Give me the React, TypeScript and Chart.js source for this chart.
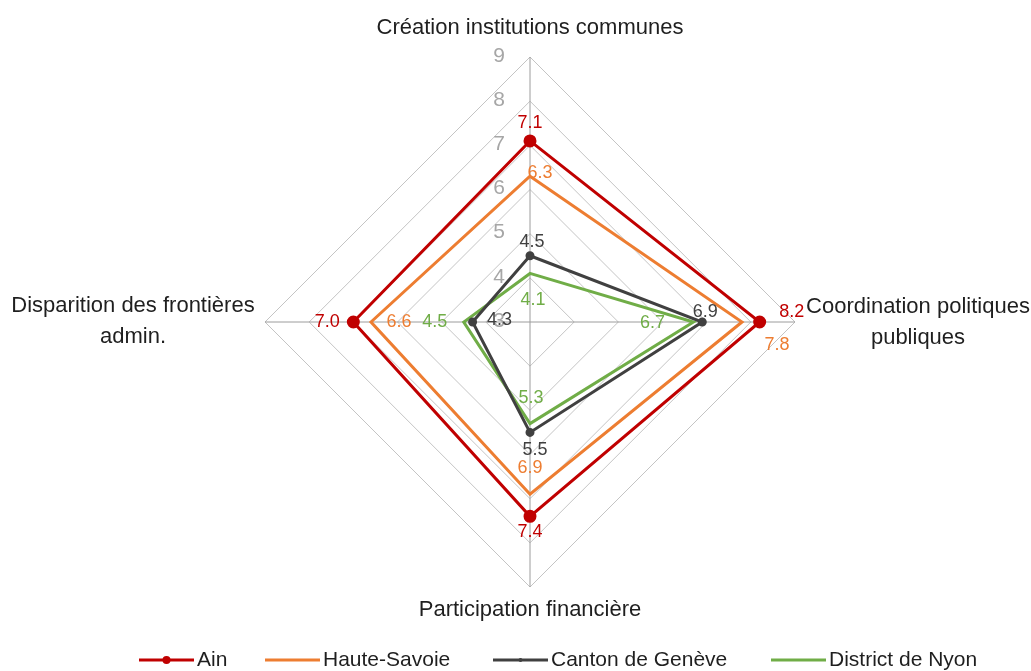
import React, { useEffect, useRef } from "react";
import { Chart, registerables } from "chart.js";

Chart.register(...registerables);

const categories: string[][] = [
  ["Création institutions communes"],
  ["Coordination politiques", "publiques"],
  ["Participation financière"],
  ["Disparition des frontières", "admin."],
];

const seriesNames = ["Ain", "Haute-Savoie", "Canton de Genève", "District de Nyon"];
const ainValues = [7.1, 8.2, 7.4, 7.0];
const hauteSavoieValues = [6.3, 7.8, 6.9, 6.6];
const geneveValues = [4.5, 6.9, 5.5, 4.3];
const nyonValues = [4.1, 6.7, 5.3, 4.5];
const tickValues = [3, 4, 5, 6, 7, 8, 9];

const seriesColors = ["#C00000", "#ED7D31", "#404040", "#70AD47"];
const pointRadii = [5, 0, 3, 0];

// label offsets (dx, dy) relative to each point, per series and axis
const labelOffsets: number[][][] = [
  [[0, -18], [32, -10], [0, 16], [-26, 0]],
  [[10, -3], [35, 23], [0, -26], [28, 0]],
  [[2, -14], [3, -10], [5, 18], [27, -2]],
  [[3, 27], [-41, 1], [1, -26], [-29, 0]],
];

const FONT = "'Liberation Sans', Arial, sans-serif";

const overlayPlugin = {
  id: "overlay",
  afterDraw(chart: any) {
    const ctx = chart.ctx as CanvasRenderingContext2D;
    const scale = chart.scales.r;
    ctx.save();

    // tick labels
    ctx.font = `21px ${FONT}`;
    ctx.fillStyle = "#a6a6a6";
    ctx.textAlign = "right";
    ctx.textBaseline = "middle";
    tickValues.forEach((v) => {
      const p = scale.getPointPositionForValue(0, v);
      ctx.fillText(String(v), p.x - 25, p.y - 1);
    });

    // data labels
    ctx.font = `18px ${FONT}`;
    ctx.textAlign = "center";
    ctx.textBaseline = "middle";
    chart.data.datasets.forEach((ds: any, di: number) => {
      ctx.fillStyle = seriesColors[di];
      ds.data.forEach((v: number, i: number) => {
        const p = scale.getPointPositionForValue(i, v);
        const off = labelOffsets[di][i];
        ctx.fillText(v.toFixed(1), p.x + off[0], p.y + off[1]);
      });
    });

    // point labels
    ctx.font = `22px ${FONT}`;
    ctx.fillStyle = "#1f1f1f";
    ctx.textAlign = "center";
    const r = scale.drawingArea;
    const lineH = 31;
    categories.forEach((lines, i) => {
      const p = scale.getPointPosition(i, r);
      let cx = p.x;
      let cy = p.y;
      if (i === 0) cy = p.y - 29;
      if (i === 2) cy = p.y + 23;
      if (i === 1) { cx = p.x + 123; cy = p.y - 15; }
      if (i === 3) { cx = p.x - 132; cy = p.y - 16; }
      lines.forEach((t, li) => {
        ctx.fillText(t, cx, cy + li * lineH);
      });
    });

    // legend
    const legendStarts = [139, 265, 493, 771];
    const lineLen = 55;
    const ly = 660;
    ctx.font = `21px ${FONT}`;
    ctx.textAlign = "left";
    seriesNames.forEach((name, i) => {
      const x0 = legendStarts[i];
      ctx.strokeStyle = seriesColors[i];
      ctx.lineWidth = 3;
      ctx.beginPath();
      ctx.moveTo(x0, ly);
      ctx.lineTo(x0 + lineLen, ly);
      ctx.stroke();
      if (pointRadii[i] > 0) {
        ctx.fillStyle = seriesColors[i];
        ctx.beginPath();
        ctx.arc(x0 + lineLen / 2, ly, pointRadii[i] - 1, 0, Math.PI * 2);
        ctx.fill();
      }
      ctx.fillStyle = "#1f1f1f";
      ctx.fillText(name, x0 + lineLen + 3, ly);
    });

    ctx.restore();
  },
};

export default function App() {
  const ref = useRef<HTMLCanvasElement | null>(null);
  useEffect(() => {
    if (!ref.current) return;
    const values = [ainValues, hauteSavoieValues, geneveValues, nyonValues];
    const chart = new Chart(ref.current, {
      type: "radar",
      data: {
        labels: categories.map((c) => c.join(" ")),
        datasets: seriesNames.map((name, i) => ({
          label: name,
          data: values[i],
          borderColor: seriesColors[i],
          backgroundColor: seriesColors[i],
          pointBackgroundColor: seriesColors[i],
          pointBorderColor: seriesColors[i],
          pointRadius: pointRadii[i],
          pointHoverRadius: pointRadii[i],
          borderWidth: 3,
          fill: false,
          tension: 0,
        })),
      },
      options: {
        responsive: false,
        animation: false,
        layout: { padding: { left: 265, right: 236, top: 57, bottom: 84 } },
        plugins: {
          legend: { display: false },
          tooltip: { enabled: false },
        },
        scales: {
          r: {
            min: 3,
            max: 9,
            ticks: { display: false, stepSize: 1 },
            pointLabels: { display: false },
            grid: { color: "#c4c4c4", lineWidth: 1 },
            angleLines: { color: "#9c9c9c", lineWidth: 1 },
          },
        },
      },
      plugins: [overlayPlugin],
    });
    return () => chart.destroy();
  }, []);
  return (
    <div style={{ position: "absolute", left: 0, top: 0, width: 1031, height: 671, background: "#fff" }}>
      <canvas ref={ref} width={1031} height={671} />
    </div>
  );
}
